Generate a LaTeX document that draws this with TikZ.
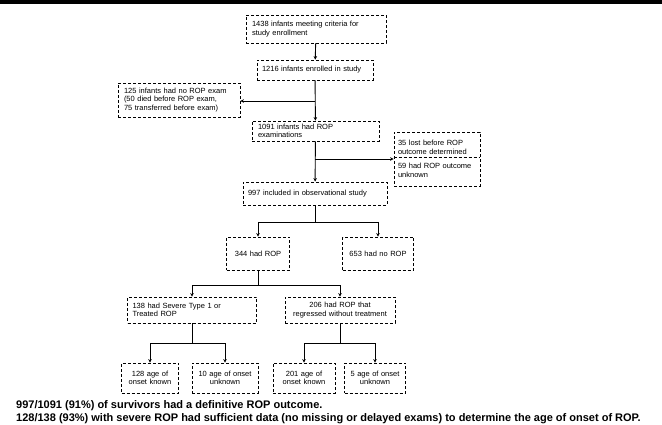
\documentclass[tikz,border=0pt]{standalone}
\usepackage{fontspec}
\setmainfont{Liberation Sans}
\usetikzlibrary{arrows.meta,calc}
\tikzset{
  box/.style={draw, densely dashed, line width=0.8pt, rectangle, inner sep=2pt,
    font=\fontsize{7.5}{8.6}\selectfont, align=left, anchor=center},
  cbox/.style={box, align=center},
  conn/.style={line width=0.9pt},
  arr/.style={line width=0.9pt, -{Stealth[length=3.5pt,width=3.5pt]}},
  foot/.style={anchor=base west, inner sep=0pt, font=\bfseries\fontsize{11}{13}\selectfont}
}
\begin{document}
\begin{tikzpicture}[x=1pt,y=-1pt]
\useasboundingbox (0,0) rectangle (662,425);
\fill[black] (0,0) rectangle (662,4);

\node[box, minimum width=140pt, minimum height=28pt, text width=128pt] (b1) at (316,29)
  {1438 infants meeting criteria for\\study enrollment};
\node[box, minimum width=116pt, minimum height=20pt, text width=106pt] (b2) at (315,70)
  {1216 infants enrolled in study};
\node[box, minimum width=122pt, minimum height=34pt, text width=110pt] (bL) at (179,100)
  {125 infants had no ROP exam\\(50 died before ROP exam,\\75 transferred before exam)};
\node[box, minimum width=127pt, minimum height=20pt, text width=115pt] (b4) at (315.5,131)
  {1091 infants had ROP\\examinations};
\node[box, minimum width=86pt, minimum height=54pt, text width=78pt] (bR) at (437,159)
  {35 lost before ROP\\outcome determined\\[6pt]59 had ROP outcome\\unknown};
\draw[densely dashed, line width=0.6pt] (bR.west |- 0,157) -- (bR.east |- 0,157);
\node[box, minimum width=144pt, minimum height=23pt, text width=134pt] (b5) at (315,193.5)
  {997 included in observational study};
\node[cbox, minimum width=63pt, minimum height=33pt, text width=55pt] (b6) at (258,253.5)
  {344 had ROP};
\node[cbox, minimum width=71pt, minimum height=33pt, text width=63pt] (b7) at (378,253.5)
  {653 had no ROP};
\node[box, minimum width=129pt, minimum height=26pt, text width=119pt] (b8) at (192,310)
  {138 had Severe Type 1 or\\Treated ROP};
\node[cbox, minimum width=110pt, minimum height=26pt, text width=104pt] (b9) at (340,310)
  {206 had ROP that\\regressed without treatment};
\node[cbox, minimum width=57pt, minimum height=30pt, text width=53pt] (b10) at (150,378)
  {128 age of\\onset known};
\node[cbox, minimum width=66pt, minimum height=30pt, text width=62pt] (b11) at (225,378)
  {10 age of onset\\unknown};
\node[cbox, minimum width=62pt, minimum height=30pt, text width=58pt] (b12) at (304,378)
  {201 age of\\onset known};
\node[cbox, minimum width=61pt, minimum height=30pt, text width=57pt] (b13) at (375,378)
  {5 age of onset\\unknown};

% connectors
\draw[arr] (b1) -- (b2);
\coordinate (j1) at (315,101);
\draw[arr] (b2) -- (b4);
\draw[arr] (j1) -- (bL.east |- j1);
\coordinate (j2) at (315,159);
\draw[arr] (b4) -- (b5);
\draw[arr] (j2) -- (bR.west |- j2);

\coordinate (s1) at (315,222);
\draw[conn] (b5.south) -- (s1);
\draw[conn] (b6.north |- s1) -- (b7.north |- s1);
\draw[arr] (b6.north |- s1) -- (b6.north);
\draw[arr] (b7.north |- s1) -- (b7.north);

\coordinate (s2) at (258,285);
\draw[conn] (b6.south) -- (s2);
\draw[conn] (b8.north |- s2) -- (b9.north |- s2);
\draw[arr] (b8.north |- s2) -- (b8.north);
\draw[arr] (b9.north |- s2) -- (b9.north);

\coordinate (s3) at (192,343);
\draw[conn] (b8.south) -- (s3);
\draw[conn] (b10.north |- s3) -- (b11.north |- s3);
\draw[arr] (b10.north |- s3) -- (b10.north);
\draw[arr] (b11.north |- s3) -- (b11.north);

\coordinate (s4) at (340,343);
\draw[conn] (b9.south) -- (s4);
\draw[conn] (b12.north |- s4) -- (b13.north |- s4);
\draw[arr] (b12.north |- s4) -- (b12.north);
\draw[arr] (b13.north |- s4) -- (b13.north);

\node[foot] (f1) at (16,408) {997/1091 (91\%) of survivors had a definitive ROP outcome.};
\node[foot] (f2) at (16,421) {128/138 (93\%) with severe ROP had sufficient data (no missing or delayed exams) to determine the age of onset of ROP.};
\end{tikzpicture}
\end{document}
